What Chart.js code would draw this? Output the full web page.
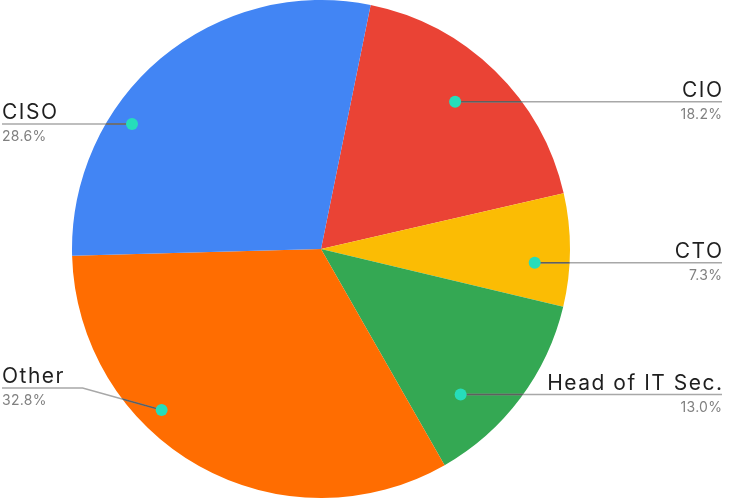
<!DOCTYPE html>
<html><head><meta charset="utf-8">
<script src="https://cdn.jsdelivr.net/npm/chart.js@4"></script>
<style>html,body{margin:0;padding:0;background:#fff}#wrap{width:730px;height:500px}</style>
</head><body><div id="wrap"><canvas id="c"></canvas></div>
<script>
const categories = ["CIO", "CTO", "Head of IT Sec.", "Other", "CISO"];
const shares = [18.2, 7.3, 13.0, 32.8, 28.6];
const colors = ["#EA4335", "#FBBC04", "#34A853", "#FF6D01", "#4285F4"];
// label anchor placement: fraction along slice, radius fraction, elbow
const anchorT = [0.47, 0.63, 0.70, 0.63, 0.34];
const anchorR = [0.80, 0.86, 0.81, 0.91, 0.91];
const elbowDy = [0, 0, 0, -22, 0];

const labelPlugin = {
  id: 'calloutLabels',
  afterDatasetsDraw(chart) {
    const ctx = chart.ctx;
    const meta = chart.getDatasetMeta(0);
    const W = chart.width;
    meta.data.forEach((arc, i) => {
      const p = arc.getProps(['x','y','startAngle','endAngle','outerRadius'], true);
      const a = p.startAngle + anchorT[i] * (p.endAngle - p.startAngle);
      const r = anchorR[i] * p.outerRadius;
      const dx = p.x + Math.cos(a) * r, dy = p.y + Math.sin(a) * r;
      const right = dx > p.x;
      const lineY = dy + elbowDy[i];
      const endX = right ? W - 8 : 2;
      const pts = [[dx, dy]];
      if (elbowDy[i] !== 0) pts.push([right ? dx + 79 : dx - 79, lineY]);
      pts.push([endX, lineY]);
      const drawPath = () => { ctx.beginPath(); ctx.moveTo(pts[0][0], pts[0][1]); for (let k = 1; k < pts.length; k++) ctx.lineTo(pts[k][0], pts[k][1]); ctx.stroke(); };
      ctx.save();
      ctx.lineWidth = 1.5;
      ctx.strokeStyle = '#a8a8a8';
      drawPath();
      ctx.beginPath(); ctx.arc(p.x, p.y, p.outerRadius, 0, Math.PI * 2); ctx.clip();
      ctx.strokeStyle = '#5f5f5f';
      drawPath();
      ctx.restore();
      ctx.save();
      ctx.fillStyle = '#26DDBA';
      ctx.beginPath(); ctx.arc(dx, dy, 6, 0, Math.PI * 2); ctx.fill();
      ctx.textAlign = right ? 'right' : 'left';
      ctx.textBaseline = 'alphabetic';
      ctx.fillStyle = '#1f1f1f';
      ctx.font = '21px Inter';
      ctx.letterSpacing = '1.5px';
      ctx.fillText(categories[i], right ? endX + 1.5 : endX, lineY - 5);
      ctx.fillStyle = '#808080';
      ctx.font = '14px Inter';
      ctx.letterSpacing = '0.3px';
      ctx.fillText(shares[i].toFixed(1) + '%', right ? endX + 0.3 : endX, lineY + 17);
      ctx.restore();
    });
  }
};

new Chart(document.getElementById('c'), {
  type: 'pie',
  data: { labels: categories, datasets: [{ data: shares, backgroundColor: colors, borderWidth: 0, hoverOffset: 0 }] },
  options: {
    responsive: true, maintainAspectRatio: false, animation: false,
    rotation: 11.5,
    layout: { padding: { left: 72, right: 160, top: 0, bottom: 2 } },
    plugins: { legend: { display: false }, tooltip: { enabled: false } },
    events: []
  },
  plugins: [labelPlugin]
});
</script></body></html>
